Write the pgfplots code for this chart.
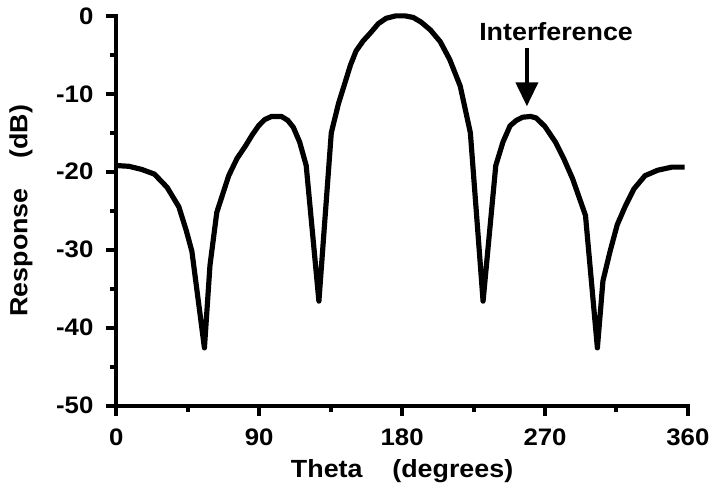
\documentclass[border=0pt]{standalone}
\usepackage{fontspec}
\setmainfont{Liberation Sans}[FakeStretch=1.08]
\usepackage{pgfplots}
\pgfplotsset{compat=1.18}
\usetikzlibrary{arrows.meta}
\begin{document}
\begin{tikzpicture}
\begin{axis}[
  name=ax,
  scale only axis,
  width=287.5pt, height=196pt,
  xmin=0, xmax=360, ymin=-50, ymax=0,
  axis lines*=left,
  axis line style={line width=2pt, line cap=rect},
  xtick={0,90,180,270,360},
  ytick={-50,-40,-30,-20,-10,0},
  minor x tick num=1,
  minor y tick num=1,
  tick align=outside,
  major tick length=5pt,
  minor tick length=3pt,
  every tick/.style={black, line width=2pt},
  tick label style={font=\bfseries\fontsize{12}{14}\selectfont},
  /pgf/number format/assume math mode=true,
  xticklabel style={yshift=-3pt},
  yticklabel style={xshift=-3pt},
  xlabel={\bfseries\fontsize{12.5}{14}\selectfont Theta\hspace{1.2em}(degrees)},
  ylabel={\bfseries\fontsize{12.5}{14}\selectfont Response\hspace{1.2em}(dB)},
  xlabel style={yshift=0pt},
  ylabel style={yshift=5pt},
  clip=false,
]
\addplot[black, line width=2.6pt, line join=round] coordinates {
(0,-19.2) (8,-19.3) (16,-19.7) (24,-20.3) (32,-22) (39.4,-24.5) (44,-27.5) (47.6,-30.2) (55.5,-42.6)
(59,-32) (63.3,-25.2) (70.8,-20.5) (76,-18.3) (81.3,-16.7) (85.5,-15.3) (89.6,-14.1) (93.5,-13.3) (97.8,-12.9) (104,-12.9)
(108,-13.4) (111.5,-14.3) (115.5,-16.2) (119.6,-19.2) (127.6,-36.6) (135.4,-15.0) (140,-11.2) (144,-8.6) (147.5,-6.3) (151,-4.5)
(155.5,-3.2) (160,-2.2) (165,-1.0) (170,-0.3) (176,0) (182,0) (187,-0.2) (192,-0.8) (197.8,-1.8) (204,-3.3) (210,-5.6) (216.6,-9)
(223,-15) (231,-36.6) (239,-19.2) (243.5,-16.2) (248,-14.1) (252,-13.4) (256,-13) (261,-12.9) (264.5,-13.1) (270,-14.2)
(276.6,-16.2) (282,-18.4) (287.4,-20.9) (295.5,-25.6) (303,-42.6) (306.5,-34) (311,-30.2) (315.5,-26.8)
(320.6,-24.4) (326,-22.2) (333,-20.5) (341,-19.8) (350,-19.4) (358,-19.4)
};
\draw[line width=2pt, -{Triangle[length=12pt,width=11pt]}] (axis cs:258.6,-4.1) -- (axis cs:258.6,-11.6);
\node[font=\bfseries\fontsize{12.5}{14}\selectfont] at (axis cs:277,-2.0) {Interference};
\end{axis}
\path ([shift={(-58.5pt,-40pt)}]ax.south west) rectangle ([shift={(12pt,8pt)}]ax.north east);
\end{tikzpicture}
\end{document}
